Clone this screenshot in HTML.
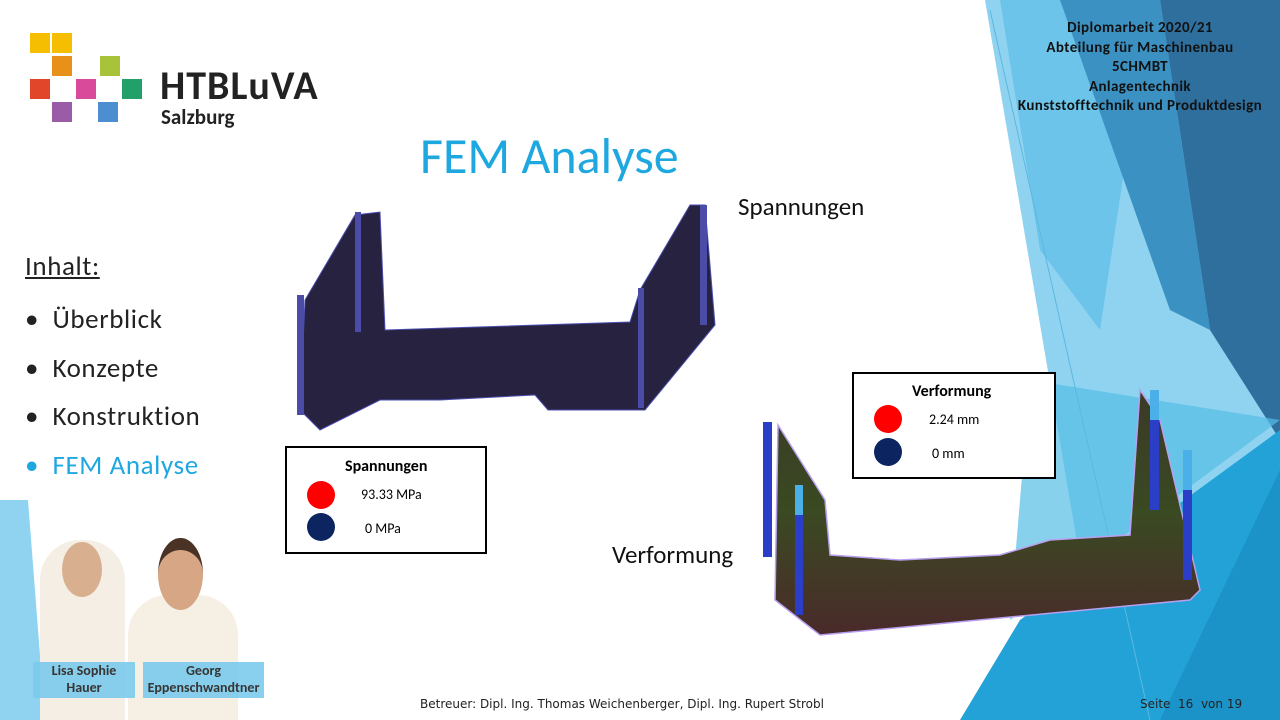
<!DOCTYPE html>
<html><head><meta charset="utf-8"><style>
body{margin:0;width:1280px;height:720px;position:relative;overflow:hidden;background:#fff;font-family:"Liberation Sans",sans-serif}
.a{position:absolute}
.cal{font-family:"Carlito","Liberation Sans",sans-serif}
</style></head><body>
<svg class="a" style="left:0;top:0" width="1280" height="720">
<polygon points="985,0 1280,0 1280,720 1150,720 1080,560" fill="#8fd3f1"/>
<polygon points="1000,0 1150,0 1100,330 1040,250" fill="#6cc4ea"/>
<polygon points="1160,0 1280,0 1280,440 1210,330" fill="#2e6f9e"/>
<polygon points="1060,0 1160,0 1210,330 1170,310" fill="#3a91c2"/>
<polygon points="1280,430 1280,720 960,720 1020,620" fill="#22a2d6"/>
<polygon points="1280,470 1160,720 1280,720" fill="#1b93c8"/>
<polygon points="1030,380 1280,420 1010,620" fill="#55bde6" opacity=".7"/>
<polygon points="0,500 28,500 45,720 0,720" fill="#8fd3f1"/>
<line x1="990" y1="10" x2="1150" y2="720" stroke="#5bb8e0" stroke-width="1"/>
<rect x="30" y="33" width="20" height="20" fill="#f6be00"/><rect x="52" y="33" width="20" height="20" fill="#f6be00"/>
<rect x="52" y="56" width="20" height="20" fill="#e8911a"/><rect x="100" y="56" width="20" height="20" fill="#a8c23a"/>
<rect x="30" y="79" width="20" height="20" fill="#e2462a"/><rect x="76" y="79" width="20" height="20" fill="#d94b9a"/><rect x="122" y="79" width="20" height="20" fill="#21a06a"/>
<rect x="52" y="102" width="20" height="20" fill="#9a5ca6"/><rect x="98" y="102" width="20" height="20" fill="#4d8ed0"/>
<g fill="#26223f" stroke="#4b4fb0" stroke-width="1">
<polygon points="300,410 305,300 355,215 380,212 385,330 630,322 640,290 690,205 705,205 715,325 645,410 548,410 535,395 440,400 380,400 320,430"/>
</g>
<rect x="297" y="295" width="7" height="120" fill="#4b4ca8"/><rect x="355" y="212" width="6" height="120" fill="#4b4ca8"/>
<rect x="638" y="288" width="6" height="120" fill="#4b4ca8"/><rect x="700" y="205" width="7" height="120" fill="#4b4ca8"/>
<defs><linearGradient id="g" x1="0" y1="0" x2="0" y2="1"><stop offset="0" stop-color="#3b3a26"/><stop offset=".5" stop-color="#3a4a22"/><stop offset="1" stop-color="#4a2a2a"/></linearGradient></defs>
<polygon points="775,600 778,425 825,500 830,555 900,560 1000,555 1050,540 1130,535 1140,390 1160,420 1200,590 1190,600 820,635" fill="url(#g)" stroke="#b8a0f0" stroke-width="1.5"/>
<rect x="763" y="422" width="9" height="135" fill="#2a3ec8"/><rect x="795" y="485" width="8" height="130" fill="#2a3ec8"/>
<rect x="1150" y="390" width="9" height="120" fill="#2a3ec8"/><rect x="1183" y="450" width="9" height="130" fill="#2a3ec8"/>
<rect x="795" y="485" width="8" height="30" fill="#4bb0e8"/><rect x="1150" y="390" width="9" height="30" fill="#4bb0e8"/><rect x="1183" y="450" width="9" height="40" fill="#4bb0e8"/>
</svg>
<div class="a cal" style="left:160px;top:61px;font-size:40px;letter-spacing:1px;font-weight:bold;color:#222">HTBLuVA</div>
<div class="a cal" style="left:161px;top:104px;font-size:21px;font-weight:bold;color:#222">Salzburg</div>
<div class="a cal" style="left:1000px;top:19px;width:280px;text-align:center;font-size:15px;letter-spacing:0.4px;font-weight:bold;line-height:19.5px;color:#111">Diplomarbeit 2020/21<br>Abteilung für Maschinenbau<br>5CHMBT<br>Anlagentechnik<br>Kunststofftechnik und Produktdesign</div>
<div class="a cal" style="left:420px;top:126px;font-size:50px;color:#1fa8e0">FEM Analyse</div>
<div class="a cal" style="left:738px;top:191px;font-size:25px;color:#111">Spannungen</div>
<div class="a cal" style="left:612px;top:539px;font-size:25px;color:#111">Verformung</div>
<div class="a cal" style="left:25px;top:250px;font-size:27px;letter-spacing:0.6px;color:#222;text-decoration:underline">Inhalt:</div>
<div class="a cal" style="left:25px;top:296px;font-size:27px;letter-spacing:0.6px;line-height:48.5px;color:#222">•&nbsp;&nbsp;Überblick<br>•&nbsp;&nbsp;Konzepte<br>•&nbsp;&nbsp;Konstruktion<br><span style="color:#1fa8e0">•&nbsp;&nbsp;FEM Analyse</span></div>
<div class="a cal" style="left:285px;top:446px;width:198px;height:104px;border:2px solid #000;background:#fff">
<div class="a" style="left:58px;top:9px;font-size:16px;font-weight:bold">Spannungen</div>
<div class="a" style="left:20px;top:33px;width:28px;height:28px;border-radius:50%;background:#f00"></div>
<div class="a" style="left:20px;top:65px;width:28px;height:28px;border-radius:50%;background:#0c2560"></div>
<div class="a" style="left:74px;top:38px;font-size:14px">93.33 MPa</div>
<div class="a" style="left:78px;top:72px;font-size:14px">0 MPa</div></div>
<div class="a cal" style="left:852px;top:372px;width:200px;height:103px;border:2px solid #000;background:#fff">
<div class="a" style="left:58px;top:8px;font-size:16px;font-weight:bold">Verformung</div>
<div class="a" style="left:20px;top:31px;width:28px;height:28px;border-radius:50%;background:#f00"></div>
<div class="a" style="left:20px;top:64px;width:28px;height:28px;border-radius:50%;background:#0c2560"></div>
<div class="a" style="left:75px;top:37px;font-size:14px">2.24 mm</div>
<div class="a" style="left:78px;top:71px;font-size:14px">0 mm</div></div>
<div class="a" style="left:40px;top:540px;width:85px;height:180px;background:#f4eee4;border-radius:40px 40px 0 0"></div>
<div class="a" style="left:62px;top:542px;width:40px;height:55px;background:#d9b08f;border-radius:50%"></div>
<div class="a" style="left:128px;top:595px;width:110px;height:125px;background:#f6efe4;border-radius:40px 40px 0 0"></div>
<div class="a" style="left:158px;top:538px;width:45px;height:60px;background:#d6a685;border-radius:50%;border-top:12px solid #4a3225"></div>
<div class="a cal" style="left:33px;top:662px;width:102px;height:36px;background:#7ccbed;opacity:.9;text-align:center;font-size:14px;font-weight:bold;line-height:17px;color:#222">Lisa Sophie<br>Hauer</div>
<div class="a cal" style="left:143px;top:662px;width:121px;height:36px;background:#7ccbed;opacity:.9;text-align:center;font-size:14px;font-weight:bold;line-height:17px;color:#222">Georg<br>Eppenschwandtner</div>
<div class="a" style="left:420px;top:697px;font-family:'DejaVu Sans',sans-serif;font-size:12px;color:#222">Betreuer: Dipl. Ing. Thomas Weichenberger, Dipl. Ing. Rupert Strobl</div>
<div class="a" style="left:1140px;top:697px;font-family:'DejaVu Sans',sans-serif;font-size:12px;color:#222">Seite &nbsp;16 &nbsp;von 19</div>
</body></html>
